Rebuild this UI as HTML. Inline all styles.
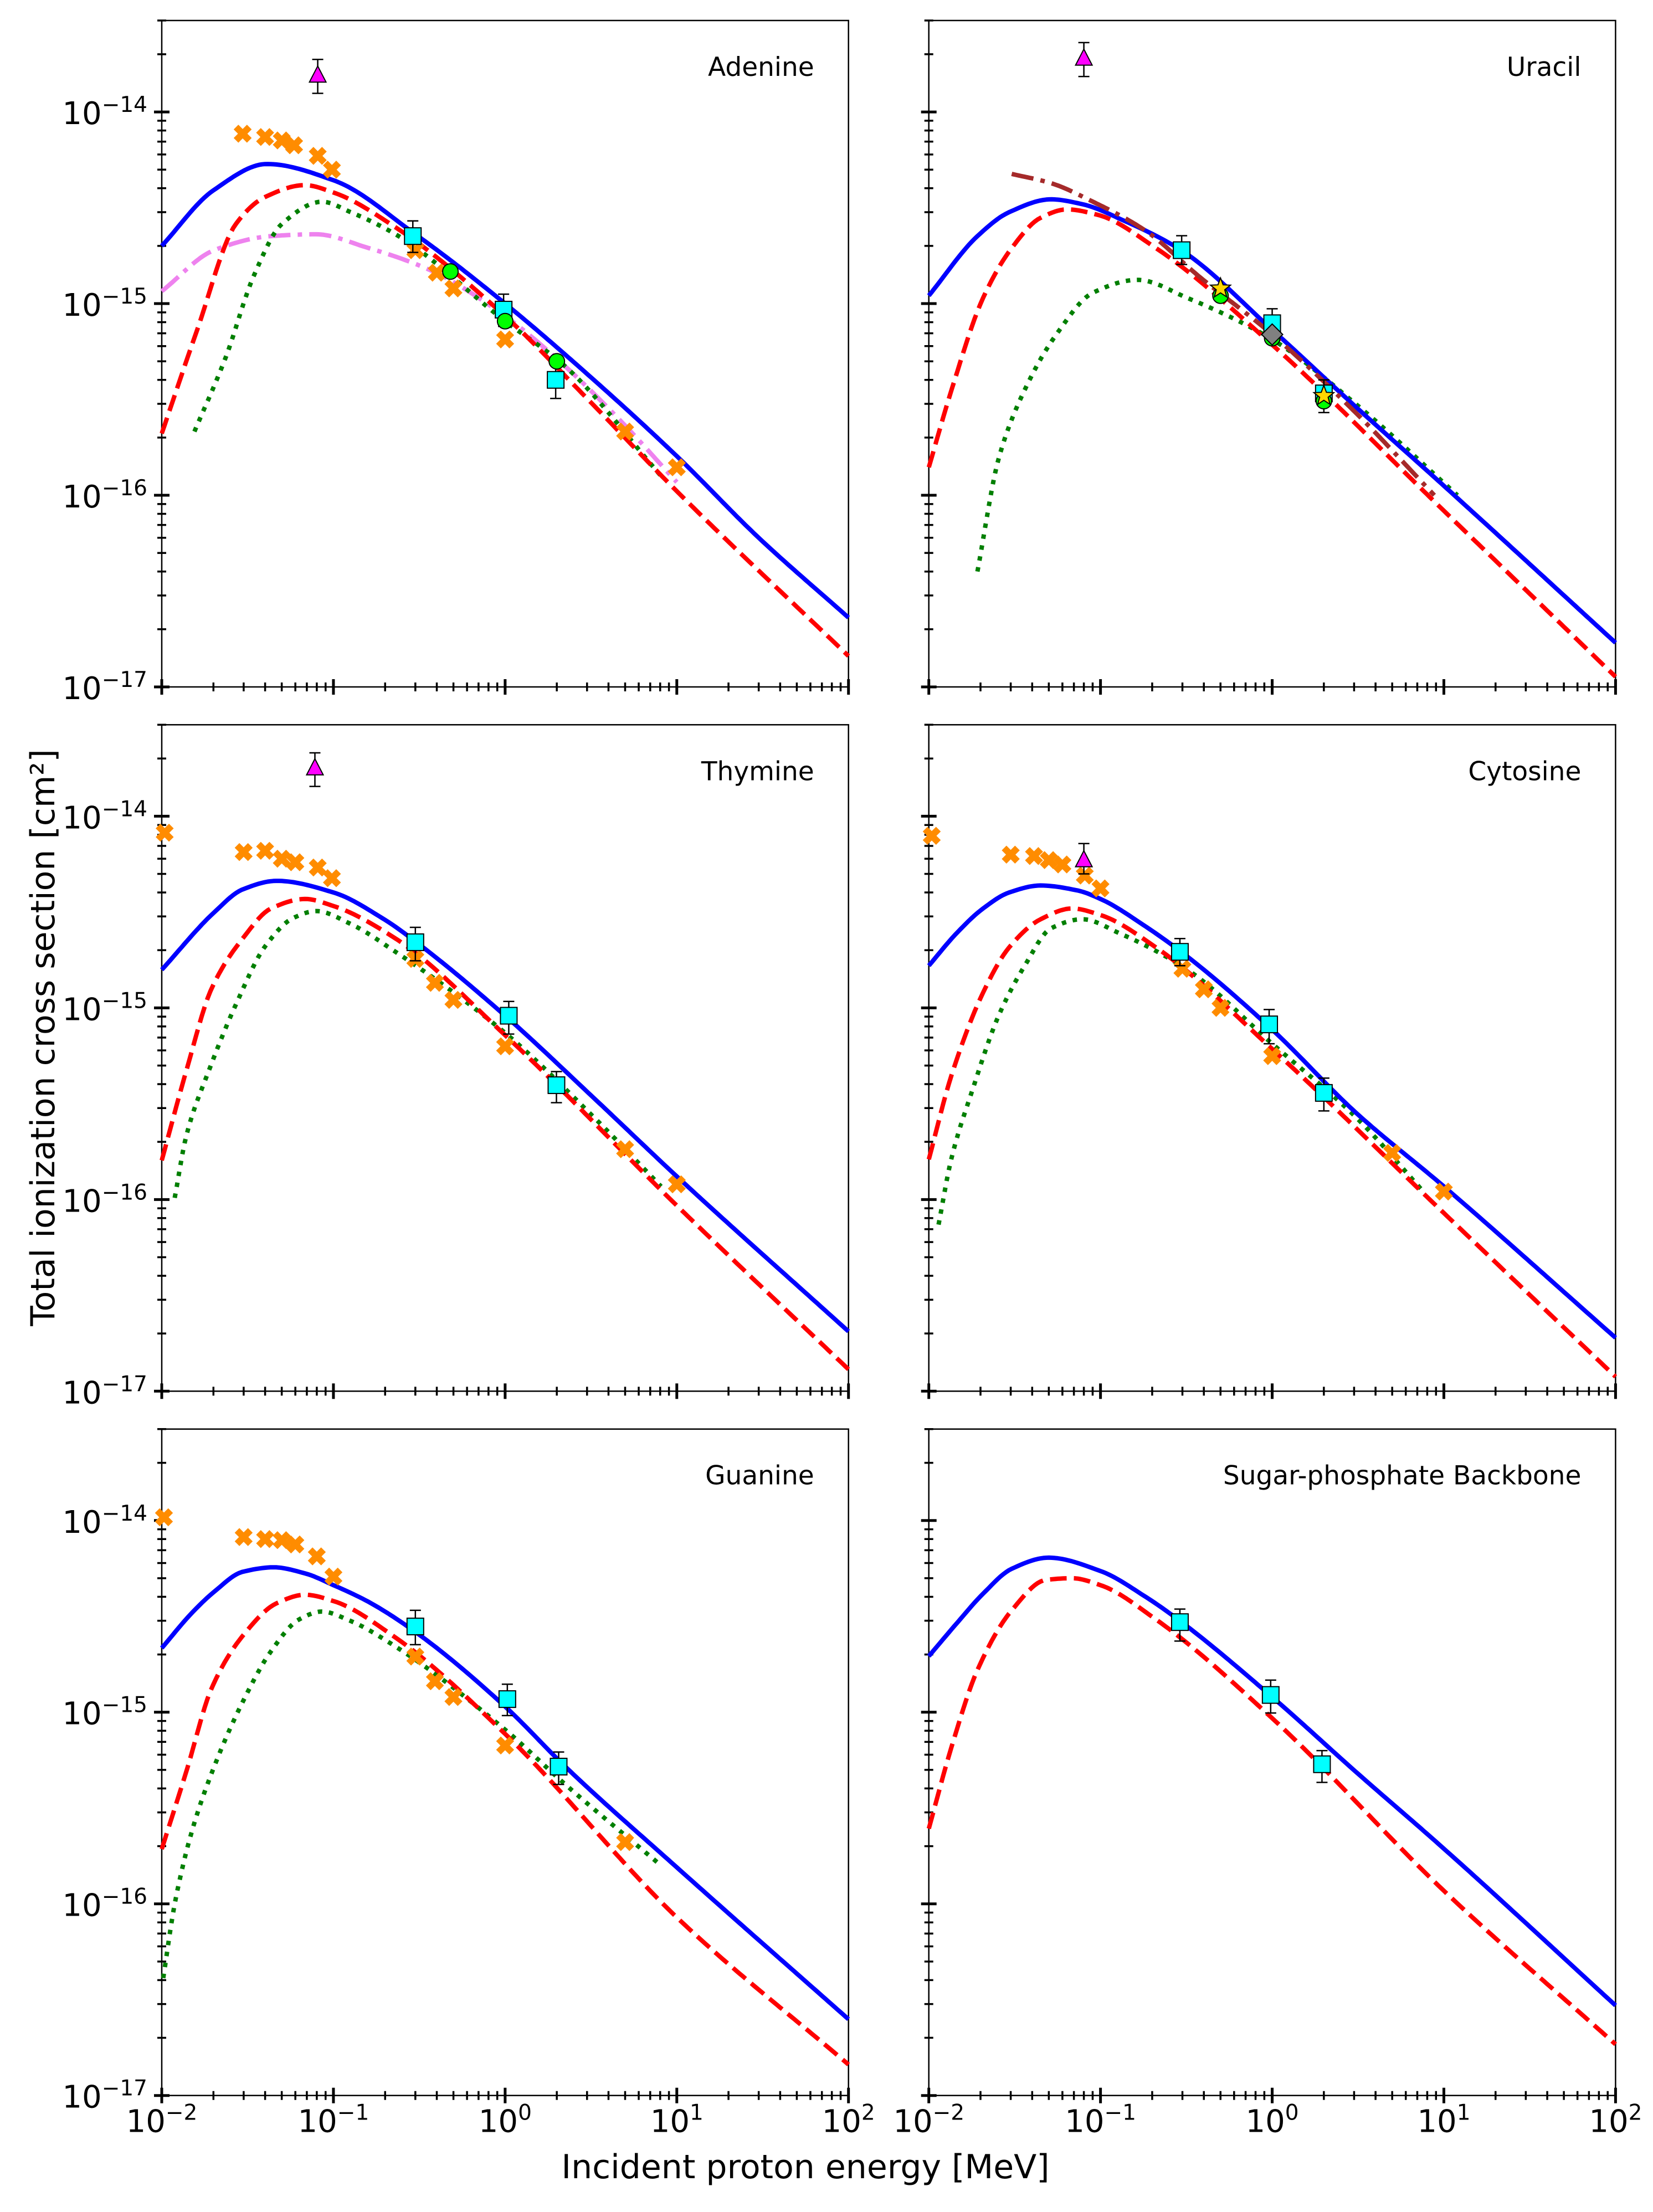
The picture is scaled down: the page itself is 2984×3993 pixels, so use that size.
<!DOCTYPE html>
<html>
<head>
<meta charset="utf-8">
<style>
html,body{margin:0;padding:0;background:#fff;}
svg{display:block;}
text{font-family:"DejaVu Sans","Liberation Sans",sans-serif;fill:#000;}
</style>
</head>
<body>
<svg id="fig" xmlns="http://www.w3.org/2000/svg" width="2984" height="3993" viewBox="0 0 2984 3993">
<rect x="0" y="0" width="2984" height="3993" fill="#fff"/>
<text x="0" y="0" font-size="60" text-anchor="middle" transform="translate(98,1873) rotate(-90)">Total ionization cross section [cm²]</text>
<text x="1454" y="3932" font-size="60" text-anchor="middle">Incident proton energy [MeV]</text>
</svg>
<script>
// ---- Adenine ----
const aBlueE=[0.01,0.02,0.041,0.1,0.3,1,3,10,30,100];
const aBlueS=[2.0e-15,3.9e-15,5.35e-15,4.4e-15,2.3e-15,1.0e-15,4.3e-16,1.6e-16,6e-17,2.3e-17];
const aRedE=[0.01,0.016,0.027,0.04,0.068,0.1,0.23,1,3,10,100];
const aRedS=[2.1e-16,7.2e-16,2.6e-15,3.6e-15,4.15e-15,3.8e-15,2.5e-15,8.6e-16,3.2e-16,1.05e-16,1.45e-17];
const aGreenE=[0.0155,0.0235,0.0344,0.05,0.086,0.126,0.23,1,2.24,8.1];
const aGreenS=[2.15e-16,5.2e-16,1.4e-15,2.6e-15,3.4e-15,3.0e-15,2.3e-15,8.1e-16,4.7e-16,1.26e-16];
const aVioletE=[0.01,0.0202,0.0433,0.079,0.157,0.363,1,2.24,4.8,10];
const aVioletS=[1.16e-15,1.9e-15,2.25e-15,2.3e-15,1.96e-15,1.5e-15,8.6e-16,4.7e-16,2.4e-16,1.17e-16];
const aXE=[0.0296,0.04,0.05,0.059,0.081,0.098,0.30,0.40,0.50,1.0,5,10];
const aXS=[7.7e-15,7.4e-15,7.1e-15,6.7e-15,5.9e-15,5.0e-15,1.9e-15,1.45e-15,1.2e-15,6.5e-16,2.15e-16,1.4e-16];
const aSqE=[0.29,0.98,1.97];
const aSqS=[2.25e-15,9.3e-16,4.0e-16];
const aSqHi=[2.7e-15,1.12e-15,4.8e-16];
const aSqLo=[1.85e-15,7.6e-16,3.2e-16];
const aCircE=[0.48,1.0,2.0];
const aCircS=[1.47e-15,8.1e-16,5.0e-16];
const aTriE=[0.081];
const aTriS=[1.55e-14];
const aTriHi=[1.88e-14];
const aTriLo=[1.25e-14];
// ---- Uracil ----
const uBlueE=[0.01,0.0192,0.0294,0.0515,0.0785,0.138,0.295,1,3.06,10,100];
const uBlueS=[1.1e-15,2.25e-15,3.0e-15,3.5e-15,3.3e-15,2.7e-15,1.9e-15,7.3e-16,2.9e-16,1.12e-16,1.7e-17];
const uRedE=[0.01,0.0135,0.0207,0.0304,0.0447,0.0637,0.097,0.21,1,10,100];
const uRedS=[1.4e-16,3.5e-16,1.07e-15,1.95e-15,2.8e-15,3.1e-15,2.9e-15,1.95e-15,6.1e-16,8.3e-17,1.13e-17];
const uGreenE=[0.0192,0.0255,0.0362,0.0553,0.0904,0.164,0.321,1,3.06,12];
const uGreenS=[4.0e-17,1.55e-16,3.55e-16,6.9e-16,1.14e-15,1.33e-15,1.07e-15,6.5e-16,3.0e-16,1.0e-16];
const uBrownE=[0.0304,0.0515,0.0904,0.183,0.37,1,3.06,8.8];
const uBrownS=[4.75e-15,4.25e-15,3.4e-15,2.4e-15,1.4e-15,6.9e-16,2.7e-16,1.0e-16];
const uSqE=[0.297,1.0,2.0];
const uSqS=[1.9e-15,7.9e-16,3.4e-16];
const uSqHi=[2.26e-15,9.4e-16,4.0e-16];
const uSqLo=[1.6e-15,6.6e-16,2.7e-16];
const uStarE=[0.5,2.0];
const uStarS=[1.2e-15,3.3e-16];
const uCircE=[0.5,1.0,2.0];
const uCircS=[1.1e-15,6.6e-16,3.1e-16];
const uDiamE=[1.0];
const uDiamS=[6.9e-16];
const uTriE=[0.08];
const uTriS=[1.9e-14];
const uTriHi=[2.3e-14];
const uTriLo=[1.53e-14];
// ---- Thymine ----
const tBlueE=[0.01,0.0202,0.0296,0.0468,0.1,0.197,0.304,1,3.27,10,100];
const tBlueS=[1.58e-15,3.15e-15,4.15e-15,4.6e-15,4.0e-15,2.9e-15,2.2e-15,9.1e-16,3.4e-16,1.32e-16,2.05e-17];
const tRedE=[0.01,0.0139,0.0195,0.0296,0.0433,0.0683,0.1,0.23,1,10,100];
const tRedS=[1.6e-16,4.7e-16,1.26e-15,2.3e-15,3.3e-15,3.7e-15,3.4e-15,2.3e-15,7.2e-16,9.3e-17,1.3e-17];
const tGreenE=[0.0119,0.0139,0.0188,0.0274,0.0401,0.0586,0.0795,0.125,0.23,1,3.27,8.1];
const tGreenS=[1.02e-16,2.15e-16,4.7e-16,1.07e-15,2.1e-15,2.95e-15,3.2e-15,2.75e-15,1.96e-15,7.4e-16,2.7e-16,1.17e-16];
const tXE=[0.0104,0.03,0.04,0.05,0.06,0.081,0.098,0.3,0.39,0.5,1.0,5.0,10];
const tXS=[8.2e-15,6.5e-15,6.6e-15,6.0e-15,5.75e-15,5.4e-15,4.75e-15,1.8e-15,1.35e-15,1.1e-15,6.3e-16,1.83e-16,1.2e-16];
const tSqE=[0.3,1.05,1.99];
const tSqS=[2.2e-15,9.1e-16,3.95e-16];
const tSqHi=[2.63e-15,1.08e-15,4.65e-16];
const tSqLo=[1.76e-15,7.3e-16,3.2e-16];
const tTriE=[0.078];
const tTriS=[1.78e-14];
const tTriHi=[2.14e-14];
const tTriLo=[1.43e-14];
// ---- Cytosine ----
const cBlueE=[0.01,0.0145,0.0207,0.0294,0.0448,0.0733,0.1,0.183,0.321,1,3.06,10,100];
const cBlueS=[1.66e-15,2.45e-15,3.3e-15,4.0e-15,4.35e-15,4.1e-15,3.7e-15,2.66e-15,1.85e-15,7.7e-16,2.85e-16,1.17e-16,1.9e-17];
const cRedE=[0.01,0.0135,0.0207,0.0294,0.0448,0.0683,0.1,0.21,1,10,100];
const cRedS=[1.62e-16,4.4e-16,1.2e-15,2.07e-15,2.9e-15,3.3e-15,3.05e-15,2.07e-15,6.1e-16,8.5e-17,1.19e-17];
const cGreenE=[0.0114,0.0135,0.0179,0.0255,0.0362,0.0515,0.0785,0.129,0.321,1,3.06,7.6];
const cGreenS=[7.4e-17,1.62e-16,3.7e-16,9.1e-16,1.66e-15,2.6e-15,2.9e-15,2.45e-15,1.58e-15,6.5e-16,2.7e-16,1.1e-16];
const cXE=[0.0104,0.03,0.041,0.05,0.06,0.081,0.1,0.3,0.4,0.5,1.0,5,10];
const cXS=[7.9e-15,6.3e-15,6.2e-15,5.9e-15,5.6e-15,4.9e-15,4.2e-15,1.6e-15,1.25e-15,1.0e-15,5.6e-16,1.75e-16,1.1e-16];
const cSqE=[0.29,0.96,2.0];
const cSqS=[1.96e-15,8.2e-16,3.6e-16];
const cSqHi=[2.3e-15,9.8e-16,4.3e-16];
const cSqLo=[1.66e-15,6.5e-16,2.9e-16];
const cTriE=[0.08];
const cTriS=[5.9e-15];
const cTriHi=[7.2e-15];
const cTriLo=[5.0e-15];
// ---- Guanine ----
const gBlueE=[0.01,0.015,0.0202,0.0296,0.0449,0.0683,0.1,0.157,0.304,1,2.24,10,100];
const gBlueS=[2.16e-15,3.3e-15,4.25e-15,5.4e-15,5.7e-15,5.3e-15,4.6e-15,3.8e-15,2.6e-15,1.07e-15,5.2e-16,1.55e-16,2.5e-17];
const gRedE=[0.01,0.0139,0.0195,0.0296,0.0467,0.0683,0.1,0.23,1,10,100];
const gRedS=[1.93e-16,4.9e-16,1.33e-15,2.5e-15,3.7e-15,4.1e-15,3.8e-15,2.45e-15,7.7e-16,8.5e-17,1.45e-17];
const gGreenE=[0.0102,0.0119,0.015,0.0202,0.0296,0.0433,0.0632,0.0855,0.125,0.23,1,2.24,7.8];
const gGreenS=[4.1e-17,1.0e-16,2.4e-16,5.2e-16,1.13e-15,2.08e-15,3.05e-15,3.35e-15,3.0e-15,2.2e-15,8.1e-16,4.2e-16,1.63e-16];
const gXE=[0.0103,0.03,0.04,0.05,0.06,0.08,0.1,0.3,0.39,0.5,1.0,5];
const gXS=[1.04e-14,8.2e-15,8.0e-15,7.9e-15,7.5e-15,6.5e-15,5.1e-15,1.95e-15,1.45e-15,1.2e-15,6.7e-16,2.1e-16];
const gSqE=[0.3,1.03,2.05];
const gSqS=[2.8e-15,1.17e-15,5.2e-16];
const gSqHi=[3.4e-15,1.4e-15,6.2e-16];
const gSqLo=[2.25e-15,9.6e-16,4.2e-16];
// ---- Sugar-phosphate backbone ----
const bBlueE=[0.01,0.0145,0.0207,0.0304,0.0498,0.1,0.183,0.295,1,3.06,10,100];
const bBlueS=[1.96e-15,2.9e-15,4.15e-15,5.6e-15,6.4e-15,5.45e-15,4.0e-15,2.96e-15,1.2e-15,4.9e-16,1.94e-16,2.95e-17];
const bRedE=[0.01,0.0135,0.0192,0.0304,0.0481,0.0683,0.1,0.21,1,10,100];
const bRedS=[2.47e-16,6.5e-16,1.66e-15,3.4e-15,4.9e-15,5.0e-15,4.6e-15,3.05e-15,9.3e-16,1.17e-16,1.85e-17];
const bSqE=[0.29,0.98,1.95];
const bSqS=[2.95e-15,1.23e-15,5.35e-16];
const bSqHi=[3.45e-15,1.47e-15,6.3e-16];
const bSqLo=[2.35e-15,9.9e-16,4.3e-16];
// axis tick label arrays
const xTickExp=[-2,-1,0,1,2];
const yTickExp=[-17,-16,-15,-14];
const panelTitles=["Adenine","Uracil","Thymine","Cytosine","Guanine","Sugar-phosphate Backbone"];

const NS="http://www.w3.org/2000/svg";
const svg=document.getElementById('fig');
const COLX=[292,1676.7], PW=1239.7;
const ROWY=[37,1308.3,2579.7], PH=1203;
const YMAXL=Math.log10(3e-14), YMINL=-17;
function xOfL(col,l){return COLX[col]+(l+2)/4*PW;}
function yOfL(row,l){return ROWY[row]+(YMAXL-l)/(YMAXL-YMINL)*PH;}
function xOf(col,E){return xOfL(col,Math.log10(E));}
function yOf(row,s){return yOfL(row,Math.log10(s));}
function mk(tag,attrs,parent){const e=document.createElementNS(NS,tag);for(const k in attrs)e.setAttribute(k,attrs[k]);(parent||svg).appendChild(e);return e;}
// monotone cubic interpolation in log-log space
function monoPath(col,row,E,S){
  const x=E.map(Math.log10), y=S.map(Math.log10), n=x.length;
  const d=[],m=new Array(n);
  for(let i=0;i<n-1;i++)d.push((y[i+1]-y[i])/(x[i+1]-x[i]));
  m[0]=d[0];m[n-1]=d[n-2];
  for(let i=1;i<n-1;i++){
    if(d[i-1]*d[i]<=0)m[i]=0;
    else{const w1=2*(x[i+1]-x[i])+(x[i]-x[i-1]),w2=(x[i+1]-x[i])+2*(x[i]-x[i-1]);m[i]=(w1+w2)/(w1/d[i-1]+w2/d[i]);}
  }
  let path="";
  const N=240,x0=x[0],x1=x[n-1];
  let seg=0;
  for(let k=0;k<=N;k++){
    const xx=x0+(x1-x0)*k/N;
    while(seg<n-2&&xx>x[seg+1])seg++;
    const h=x[seg+1]-x[seg],t=(xx-x[seg])/h;
    const h00=2*t*t*t-3*t*t+1,h10=t*t*t-2*t*t+t,h01=-2*t*t*t+3*t*t,h11=t*t*t-t*t;
    const yy=h00*y[seg]+h10*h*m[seg]+h01*y[seg+1]+h11*h*m[seg+1];
    path+=(k?"L":"M")+xOfL(col,xx).toFixed(1)+","+yOfL(row,yy).toFixed(1);
  }
  return path;
}
const STY={
  blue:{stroke:"#0000ff",dash:"none"},
  red:{stroke:"#ff0000",dash:"30 13"},
  green:{stroke:"#007f00",dash:"8 12"},
  violet:{stroke:"#ee82ee",dash:"40 13 8 13"},
  brown:{stroke:"#a52a2a",dash:"40 13 8 13"}
};
function curve(g,col,row,E,S,kind,name){
  const p=mk('path',{d:monoPath(col,row,E,S),fill:"none",stroke:STY[kind].stroke,"stroke-width":8,"stroke-dasharray":STY[kind].dash,"stroke-linecap":"butt","stroke-linejoin":"round"},g);
  
  
}
function errbars(g,col,row,E,Hi,Lo,name){
  for(let i=0;i<E.length;i++){
    const x=xOf(col,E[i]),y1=yOf(row,Hi[i]),y2=yOf(row,Lo[i]);
    const e=mk('path',{d:`M${x},${y1}V${y2}M${x-10},${y1}H${x+10}M${x-10},${y2}H${x+10}`,stroke:"#000","stroke-width":2.5,fill:"none"},g);
    
    
  }
}
function markers(g,col,row,E,S,type,name){
  for(let i=0;i<E.length;i++){
    const x=xOf(col,E[i]),y=yOf(row,S[i]);
    let m;
    if(type==='x'){
      m=mk('path',{d:`M${x-12},${y-12}L${x+12},${y+12}M${x-12},${y+12}L${x+12},${y-12}`,stroke:"#ff8c00","stroke-width":12,fill:"none"},g);
    }else if(type==='sq'){
      m=mk('rect',{x:x-15,y:y-15,width:30,height:30,fill:"#00ffff",stroke:"#000","stroke-width":2},g);
    }else if(type==='circ'){
      m=mk('circle',{cx:x,cy:y,r:14,fill:"#00ff00",stroke:"#000","stroke-width":2},g);
    }else if(type==='tri'){
      m=mk('path',{d:`M${x},${y-17}L${x+15},${y+12}L${x-15},${y+12}Z`,fill:"#ff00ff",stroke:"#000","stroke-width":2},g);
    }else if(type==='star'){
      let d="";for(let k=0;k<10;k++){const r=k%2?8:19,a=-Math.PI/2+k*Math.PI/5;d+=(k?"L":"M")+(x+r*Math.cos(a)).toFixed(1)+","+(y+r*Math.sin(a)).toFixed(1);}
      m=mk('path',{d:d+"Z",fill:"#ffd700",stroke:"#000","stroke-width":2},g);
    }else if(type==='diam'){
      m=mk('path',{d:`M${x},${y-19}L${x+19},${y}L${x},${y+19}L${x-19},${y}Z`,fill:"#808080",stroke:"#000","stroke-width":2},g);
    }
    
    
  }
}
function axes(idx,col,row){
  const g=mk('g',{});
  
  
  const x0=COLX[col],x1=x0+PW,y0=ROWY[row],y1=y0+PH;
  const fr=mk('rect',{x:x0,y:y0,width:PW,height:PH,fill:"none",stroke:"#000","stroke-width":2.5},g);
  
  
  for(let ex=-2;ex<=2;ex++){
    const xm=xOf(col,Math.pow(10,ex));
    const t=mk('line',{x1:xm,x2:xm,y1:y1-14,y2:y1+14,stroke:"#000","stroke-width":5},g);
    
    
    if(ex<2)for(let k=2;k<=9;k++){
      const xn=xOf(col,k*Math.pow(10,ex));
      const tn=mk('line',{x1:xn,x2:xn,y1:y1-8,y2:y1+8,stroke:"#000","stroke-width":3.5},g);
      
      
    }
  }
  if(row===2){
    xTickExp.forEach(ex=>{
      const xm=xOf(col,Math.pow(10,ex));
      const tx=mk('text',{x:xm,y:y1+66,"font-size":56,"text-anchor":"middle"},g);
      
      
      const a=document.createElementNS(NS,'tspan');a.textContent="10";tx.appendChild(a);
      const b=document.createElementNS(NS,'tspan');b.setAttribute('font-size','39');b.setAttribute('dy','-22');b.textContent=(ex<0?"\u2212":"")+Math.abs(ex);tx.appendChild(b);
    });
  }
  for(let ey=-17;ey<=-14;ey++){
    const ym=yOf(row,Math.pow(10,ey));
    const t=mk('line',{x1:x0-14,x2:x0+14,y1:ym,y2:ym,stroke:"#000","stroke-width":5},g);
    
    
    for(let k=2;k<=9;k++){
      const v=k*Math.pow(10,ey);
      if(v>3.01e-14)break;
      const yn=yOf(row,v);
      const tn=mk('line',{x1:x0-8,x2:x0+8,y1:yn,y2:yn,stroke:"#000","stroke-width":3.5},g);
      
      
    }
  }
  if(col===0){
    yTickExp.forEach(ey=>{
      const ym=yOf(row,Math.pow(10,ey));
      const tx=mk('text',{x:x0-26,y:ym+22,"font-size":56,"text-anchor":"end"},g);
      
      
      const a=document.createElementNS(NS,'tspan');a.textContent="10";tx.appendChild(a);
      const b=document.createElementNS(NS,'tspan');b.setAttribute('font-size','39');b.setAttribute('dy','-22');b.textContent="\u2212"+Math.abs(ey);tx.appendChild(b);
    });
  }
  const ti=mk('text',{x:x1-62,y:y0+100,"font-size":47,"text-anchor":"end"},g);
  ti.textContent=panelTitles[idx];
  
  
  return g;
}
let g=axes(0,0,0);
curve(g,0,0,aVioletE,aVioletS,'violet','ab-initio-curve');
curve(g,0,0,aGreenE,aGreenS,'green','green-dotted-curve');
curve(g,0,0,aRedE,aRedS,'red','red-dashed-curve');
curve(g,0,0,aBlueE,aBlueS,'blue','blue-solid-curve');
markers(g,0,0,aXE,aXS,'x','orange-x-data');
errbars(g,0,0,aSqE,aSqHi,aSqLo,'square-errorbar');
markers(g,0,0,aSqE,aSqS,'sq','cyan-square-data');
markers(g,0,0,aCircE,aCircS,'circ','green-circle-data');
errbars(g,0,0,aTriE,aTriHi,aTriLo,'triangle-errorbar');
markers(g,0,0,aTriE,aTriS,'tri','magenta-triangle-data');
g=axes(1,1,0);
curve(g,1,0,uGreenE,uGreenS,'green','green-dotted-curve');
curve(g,1,0,uRedE,uRedS,'red','red-dashed-curve');
curve(g,1,0,uBlueE,uBlueS,'blue','blue-solid-curve');
curve(g,1,0,uBrownE,uBrownS,'brown','brown-dashdot-curve');
errbars(g,1,0,uSqE,uSqHi,uSqLo,'square-errorbar');
markers(g,1,0,uSqE,uSqS,'sq','cyan-square-data');
markers(g,1,0,uCircE,uCircS,'circ','green-circle-data');
markers(g,1,0,uStarE,uStarS,'star','gold-star-data');
markers(g,1,0,uDiamE,uDiamS,'diam','gray-diamond-data');
errbars(g,1,0,uTriE,uTriHi,uTriLo,'triangle-errorbar');
markers(g,1,0,uTriE,uTriS,'tri','magenta-triangle-data');
g=axes(2,0,1);
curve(g,0,1,tGreenE,tGreenS,'green','green-dotted-curve');
curve(g,0,1,tRedE,tRedS,'red','red-dashed-curve');
curve(g,0,1,tBlueE,tBlueS,'blue','blue-solid-curve');
markers(g,0,1,tXE,tXS,'x','orange-x-data');
errbars(g,0,1,tSqE,tSqHi,tSqLo,'square-errorbar');
markers(g,0,1,tSqE,tSqS,'sq','cyan-square-data');
errbars(g,0,1,tTriE,tTriHi,tTriLo,'triangle-errorbar');
markers(g,0,1,tTriE,tTriS,'tri','magenta-triangle-data');
g=axes(3,1,1);
curve(g,1,1,cGreenE,cGreenS,'green','green-dotted-curve');
curve(g,1,1,cRedE,cRedS,'red','red-dashed-curve');
curve(g,1,1,cBlueE,cBlueS,'blue','blue-solid-curve');
markers(g,1,1,cXE,cXS,'x','orange-x-data');
errbars(g,1,1,cSqE,cSqHi,cSqLo,'square-errorbar');
markers(g,1,1,cSqE,cSqS,'sq','cyan-square-data');
errbars(g,1,1,cTriE,cTriHi,cTriLo,'triangle-errorbar');
markers(g,1,1,cTriE,cTriS,'tri','magenta-triangle-data');
g=axes(4,0,2);
curve(g,0,2,gGreenE,gGreenS,'green','green-dotted-curve');
curve(g,0,2,gRedE,gRedS,'red','red-dashed-curve');
curve(g,0,2,gBlueE,gBlueS,'blue','blue-solid-curve');
markers(g,0,2,gXE,gXS,'x','orange-x-data');
errbars(g,0,2,gSqE,gSqHi,gSqLo,'square-errorbar');
markers(g,0,2,gSqE,gSqS,'sq','cyan-square-data');
g=axes(5,1,2);
curve(g,1,2,bRedE,bRedS,'red','red-dashed-curve');
curve(g,1,2,bBlueE,bBlueS,'blue','blue-solid-curve');
errbars(g,1,2,bSqE,bSqHi,bSqLo,'square-errorbar');
markers(g,1,2,bSqE,bSqS,'sq','cyan-square-data');
</script>
</body>
</html>
